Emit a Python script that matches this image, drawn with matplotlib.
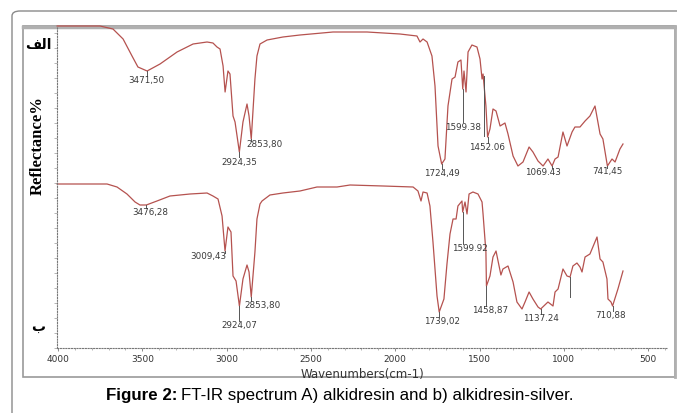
import matplotlib.pyplot as plt
from matplotlib.patches import FancyBboxPatch, Rectangle
from matplotlib.ticker import MultipleLocator, NullFormatter

# spectrum A (alkidresin), wavenumber cm-1 / reflectance (arbitrary units)
wn_a = [4005, 3751, 3674, 3614, 3561, 3526, 3471.5, 3395, 3294, 3199, 3116, 3081, 3057,
        3039, 3021, 3009, 2992, 2980, 2962, 2950, 2924.35, 2903, 2879, 2867, 2853.8, 2832,
        2820, 2802, 2760, 2666, 2565, 2369, 2167, 1972, 1871, 1853, 1835, 1811, 1782, 1764,
        1746, 1724.49, 1705, 1687, 1663, 1645, 1628, 1610, 1599.38, 1592, 1580, 1568, 1545,
        1515, 1497, 1485, 1479, 1462, 1452.06, 1438, 1420, 1402, 1378, 1349, 1331, 1301,
        1272, 1242, 1206, 1183, 1153, 1123, 1094, 1069.43, 1052, 1034, 1005, 981, 951, 934,
        904, 874, 845, 815, 785, 768, 741.45, 714, 696, 667, 649]
refl_a = [322, 322, 319, 309, 292, 281, 277, 284, 296, 304, 306, 305, 301,
          299, 282, 256, 277, 274, 232, 226, 196, 226, 244, 232, 209, 269,
          292, 304, 308, 311, 313, 316, 316, 314, 312, 306, 309, 306, 292, 262,
          202, 184, 189, 242, 269, 271, 286, 288, 259, 277, 256, 296, 303,
          301, 289, 269, 274, 242, 211, 219, 239, 237, 222, 225, 214, 192,
          182, 186, 201, 196, 187, 182, 189, 182, 189, 191, 216, 202, 216, 221,
          221, 227, 232, 242, 214, 209, 182, 189, 186, 199, 204]

# spectrum B (alkidresin-silver)
wn_b = [4005, 3709, 3650, 3591, 3543, 3514, 3476.28, 3413, 3336, 3217, 3116, 3081, 3051,
        3027, 3009.43, 2992, 2974, 2962, 2944, 2924.07, 2903, 2879, 2867, 2853.8, 2832,
        2820, 2802, 2790, 2743, 2666, 2565, 2464, 2345, 2268, 2072, 1894, 1865, 1847, 1835,
        1811, 1794, 1776, 1752, 1739.02, 1711, 1693, 1675, 1657, 1639, 1628, 1604, 1599.92,
        1586, 1574, 1562, 1539, 1509, 1485, 1479, 1462, 1458.87, 1438, 1420, 1402, 1390,
        1373, 1361, 1331, 1301, 1278, 1248, 1230, 1206, 1183, 1153, 1137.24, 1094, 1064,
        1052, 1034, 1005, 981, 963, 946, 922, 904, 892, 874, 845, 803, 785, 768, 744, 738,
        720, 710.88, 679, 649]
refl_b = [164, 164, 161, 154, 146, 143, 143, 147, 152, 154, 155, 152, 149,
          132, 97, 121, 116, 72, 67, 42, 69, 83, 76, 51, 96,
          129, 144, 147, 153, 155, 157, 161, 161, 163, 162, 161, 157, 147, 156,
          155, 142, 106, 52, 36, 49, 84, 114, 129, 129, 142, 147, 136,
          146, 134, 154, 156, 154, 146, 134, 96, 62, 72, 91, 97, 87,
          73, 79, 82, 66, 46, 39, 46, 56, 49, 41, 39, 46, 42,
          56, 59, 79, 72, 71, 82, 85, 81, 76, 91, 94, 111, 89, 86, 69, 49,
          46, 42, 59, 77]

# peak labels
peaks_a = [3471.5, 2924.35, 2853.8, 1724.49, 1599.38, 1452.06, 1069.43, 741.45]
labels_a = ['3471,50', '2924,35', '2853,80', '1724,49', '1599.38', '1452.06', '1069.43', '741,45']
peaks_b = [3476.28, 3009.43, 2924.07, 2853.8, 1739.02, 1599.92, 1458.87, 1137.24, 710.88]
labels_b = ['3476,28', '3009,43', '2924,07', '2853,80', '1739,02', '1599.92', '1458,87', '1137.24', '710,88']

W, H = 677, 414
fig = plt.figure(figsize=(W / 100, H / 100), dpi=100)

# outer frame (cut off at right / bottom) and inner picture border, behind the axes
fig.patches.append(FancyBboxPatch((12 / W, -0.1), 1.0, (H - 12) / H + 0.1,
                                  boxstyle='round,pad=0,rounding_size=0.012',
                                  transform=fig.transFigure, fc='white', ec='#8a8a8a',
                                  lw=1.0, zorder=-3))
fig.patches.append(Rectangle((23 / W, 1 - 378 / H), (675 - 23) / W, (378 - 27) / H,
                             transform=fig.transFigure, fc='white', ec='#9a9a9a',
                             lw=1.2, zorder=-2))
fig.lines.append(plt.Line2D([23 / W, 675 / W], [1 - 27.5 / H, 1 - 27.5 / H],
                            transform=fig.transFigure, color='#b0b0b0', lw=2.5, zorder=-1))
fig.lines.append(plt.Line2D([675 / W, 675 / W], [1 - 27 / H, 1 - 378 / H],
                            transform=fig.transFigure, color='#b0b0b0', lw=2.0, zorder=-1))

ax = fig.add_axes([57 / W, 1 - 349 / H, (668 - 57) / W, (349 - 27) / H])
ax.set_xlim(4006, 382)
ax.set_ylim(0, 322)
ax.patch.set_alpha(0)

line_col = '#b5524f'
ax.plot(wn_a, refl_a, color=line_col, lw=0.9, clip_on=False)
ax.plot(wn_b, refl_b, color=line_col, lw=0.9, clip_on=False)

# label offsets in pixels (dx right, dy down) from the peak point
offs_a = [(-1, 9), (0, 9), (13, 5), (0, 9), (0, 37), (-1, 10), (-9, 6), (0, 5)]
offs_b = [(4, 7), (-17, 5), (0, 19), (11, 8), (3, 9), (7, 36), (4, 24), (0, 9), (-2, 9)]


def put_labels(wns, ys, peaks, labels, offs):
    for p, lab, (dx, dy) in zip(peaks, labels, offs):
        r = ys[wns.index(p)]
        ax.annotate(lab, (p, r), xytext=(dx, -dy), textcoords='offset pixels',
                    ha='center', va='center', fontsize=6.3, color='#3a3a3a')
        ax.plot([p, p], [r, r - max(dy - 4, 2)], color='#555555', lw=0.7)


put_labels(wn_a, refl_a, peaks_a, labels_a, offs_a)
put_labels(wn_b, refl_b, peaks_b, labels_b, offs_b)
# extra marker lines
ax.plot([1474, 1474], [272, 212], color='#555555', lw=0.7)
ax.plot([963, 963], [71, 51], color='#555555', lw=0.7)

# axes styling
for s in ['top', 'right']:
    ax.spines[s].set_visible(False)
for s in ['left', 'bottom']:
    ax.spines[s].set_linestyle((0, (1, 1.5)))
    ax.spines[s].set_color('#777777')
    ax.spines[s].set_linewidth(0.8)
ax.xaxis.set_major_locator(MultipleLocator(500))
ax.xaxis.set_minor_locator(MultipleLocator(100))
ax.yaxis.set_major_locator(MultipleLocator(15))
ax.yaxis.set_major_formatter(NullFormatter())
ax.tick_params(axis='x', which='major', length=2, width=0.6, color='#777777',
               labelsize=6.5, labelcolor='#333333', pad=2.5)
ax.tick_params(axis='x', which='minor', length=1.5, width=0.5, color='#999999')
ax.tick_params(axis='y', which='major', length=2, width=0.5, color='#999999')
ax.set_xlabel('Wavenumbers(cm-1)', fontsize=8.5, color='#333333', labelpad=3)

fig.text(38 / W, 1 - 146 / H, 'Reflectance%', rotation=90, ha='center', va='center',
         fontsize=12, fontweight='bold', family='Liberation Serif')
fig.text(38 / W, 1 - 45 / H, '\uFED2\uFEDF\uFE8D', ha='center', va='center',
         fontsize=10, fontweight='bold', family='DejaVu Sans')
fig.text(38 / W, 1 - 327 / H, '\u0628', ha='center', va='center',
         fontsize=10, fontweight='bold', family='DejaVu Sans')

# caption: bold prefix + regular text, centred
cap_y = 1 - 396 / H
t1 = fig.text(0, cap_y, 'Figure 2:', fontweight='bold', fontsize=12.2,
              family='Liberation Sans', va='center')
t2 = fig.text(0, cap_y, 'FT-IR spectrum A) alkidresin and b) alkidresin-silver.',
              fontsize=12.2, family='Liberation Sans', va='center')
fig.canvas.draw()
rnd = fig.canvas.get_renderer()
w1 = t1.get_window_extent(rnd).width
w2 = t2.get_window_extent(rnd).width
gap = 4
x0 = 340 - (w1 + gap + w2) / 2
t1.set_x(x0 / W)
t2.set_x((x0 + w1 + gap) / W)

fig.savefig('out.png', dpi=100)
